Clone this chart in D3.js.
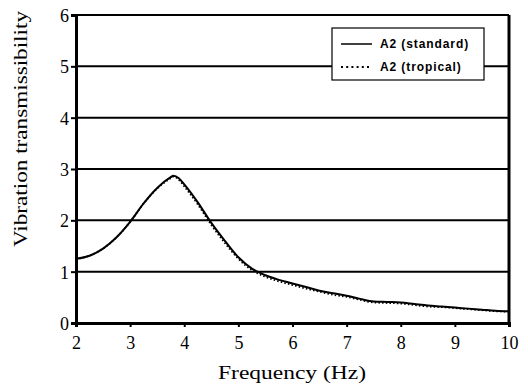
<!DOCTYPE html>
<html>
<head>
<meta charset="utf-8">
<script src="https://cdn.jsdelivr.net/npm/d3@7"></script>
<style>
  body { margin: 0; background: #fff; }
  svg { display: block; }
  .tick text { font-family: "Liberation Serif", "DejaVu Serif", serif; font-size: 18px; fill: #000; }
</style>
</head>
<body>
<div class="chart"></div>
<script>
// data
const freq = [2, 2.25, 2.5, 2.75, 3, 3.25, 3.5, 3.75, 3.8, 3.9, 4, 4.25, 4.5, 4.75, 5, 5.25, 5.5, 5.75, 6,
  6.25, 6.5, 6.75, 7, 7.25, 7.5, 7.75, 8, 8.25, 8.5, 8.75, 9, 9.25, 9.5, 9.75, 10];
const standard = [1.25, 1.31, 1.45, 1.67, 1.97, 2.33, 2.63, 2.84, 2.87, 2.82, 2.70, 2.35, 1.95, 1.60, 1.28, 1.06, 0.93, 0.84, 0.77,
  0.70, 0.63, 0.58, 0.53, 0.47, 0.42, 0.41, 0.40, 0.37, 0.34, 0.32, 0.30, 0.28, 0.26, 0.24, 0.23];
const tropical = [1.25, 1.31, 1.45, 1.67, 1.97, 2.33, 2.62, 2.82, 2.85, 2.79, 2.66, 2.31, 1.91, 1.56, 1.25, 1.03, 0.90, 0.81, 0.74,
  0.67, 0.61, 0.55, 0.51, 0.45, 0.40, 0.39, 0.38, 0.35, 0.32, 0.31, 0.29, 0.27, 0.25, 0.23, 0.22];
const xTicks = [2, 3, 4, 5, 6, 7, 8, 9, 10];
const yTicks = [0, 1, 2, 3, 4, 5, 6];
const seriesNames = ["A2 (standard)", "A2 (tropical)"];

const width = 528, height = 385;
const plotLeft = 76, plotRight = 509, plotTop = 15, plotBottom = 323;

const svg = d3.select('.chart').append('svg')
  .attr('width', width)
  .attr('height', height);

// Scales
const x = d3.scaleLinear().domain([2, 10]).range([plotLeft, plotRight]);
const y = d3.scaleLinear().domain([0, 6]).range([plotBottom, plotTop]);

// Grid lines
svg.append('g')
  .selectAll('line')
  .data(yTicks)
  .enter().append('line')
  .attr('x1', plotLeft).attr('x2', plotRight)
  .attr('y1', d => y(d)).attr('y2', d => y(d))
  .attr('stroke', '#000')
  .attr('stroke-width', 2);

// Right frame
svg.append('line')
  .attr('x1', plotRight).attr('x2', plotRight)
  .attr('y1', plotTop).attr('y2', plotBottom)
  .attr('stroke', '#000').attr('stroke-width', 3);

// Axes
const xaxis = d3.axisBottom(x).tickValues(xTicks).tickSize(4).tickPadding(9).tickFormat(d3.format('d'));
const yaxis = d3.axisLeft(y).tickValues(yTicks).tickSize(5).tickPadding(2).tickFormat(d3.format('d'));

const gx = svg.append('g')
  .attr('transform', 'translate(0,' + plotBottom + ')')
  .call(xaxis);
gx.select('.domain').attr('stroke-width', 3);
gx.selectAll('.tick line').attr('stroke-width', 2);

const gy = svg.append('g')
  .attr('transform', 'translate(' + plotLeft + ',0)')
  .call(yaxis);
gy.select('.domain').attr('stroke-width', 3);
gy.selectAll('.tick line').attr('stroke-width', 2);
gy.selectAll('.tick text').attr('dy', '0.36em');

// Axis titles
svg.append('text')
  .attr('x', 292).attr('y', 379)
  .attr('text-anchor', 'middle')
  .attr('textLength', 148).attr('lengthAdjust', 'spacingAndGlyphs')
  .style('font-family', '"Liberation Serif", serif')
  .style('font-size', '18px')
  .text('Frequency (Hz)');

svg.append('text')
  .attr('transform', 'translate(27,129) rotate(-90)')
  .attr('text-anchor', 'middle')
  .attr('textLength', 236).attr('lengthAdjust', 'spacingAndGlyphs')
  .style('font-family', '"Liberation Serif", serif')
  .style('font-size', '19px')
  .text('Vibration transmissibility');

// Lines
const line = d3.line()
  .x(d => x(d[0]))
  .y(d => y(d[1]))
  .curve(d3.curveMonotoneX);

svg.append('path')
  .attr('d', line(d3.zip(freq, standard)))
  .attr('fill', 'none').attr('stroke', '#000').attr('stroke-width', 2);

svg.append('path')
  .attr('d', line(d3.zip(freq, tropical)))
  .attr('fill', 'none').attr('stroke', '#000').attr('stroke-width', 1.8)
  .attr('stroke-dasharray', '1.5,2.2');

// Legend
const legend = svg.append('g');
legend.append('rect')
  .attr('x', 332).attr('y', 28).attr('width', 152).attr('height', 52)
  .attr('fill', '#fff').attr('stroke', '#000').attr('stroke-width', 1.2);

const rows = legend.selectAll('g.row')
  .data(seriesNames)
  .enter().append('g')
  .attr('transform', (d, i) => 'translate(0,' + (44 + i * 23) + ')');

rows.append('line')
  .attr('x1', 341).attr('x2', 372)
  .attr('stroke', '#000')
  .attr('stroke-width', (d, i) => i === 0 ? 1.5 : 2)
  .attr('stroke-dasharray', (d, i) => i === 0 ? null : '2,3.2');

rows.append('text')
  .attr('x', 380).attr('dy', '0.36em')
  .style('font-family', '"Liberation Sans", Arial, sans-serif')
  .style('font-size', '12px').style('font-weight', 'bold')
  .style('letter-spacing', '0.9px')
  .text(d => d);
</script>
</body>
</html>
